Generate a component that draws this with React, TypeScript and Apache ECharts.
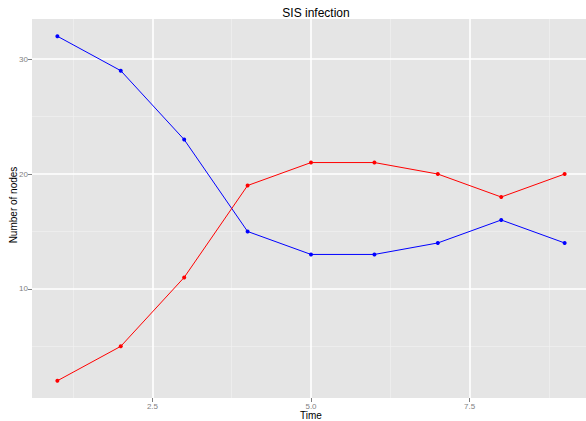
import React, { useEffect, useRef } from "react";
import * as echarts from "echarts";

const time = [1, 2, 3, 4, 5, 6, 7, 8, 9];
const susceptible = [32, 29, 23, 15, 13, 13, 14, 16, 14];
const infected = [2, 5, 11, 19, 21, 21, 20, 18, 20];
const xMajor = [2.5, 5.0, 7.5];
const xMinor = [1.25, 3.75, 6.25, 8.75];
const yMajor = [10, 20, 30];
const yMinor = [5, 15, 25];
const xTitle = "Time";
const yTitle = "Number of nodes";

export default function App() {
  const ref = useRef<HTMLDivElement>(null);
  useEffect(() => {
    const chart = echarts.init(ref.current!, null, { renderer: "svg" });
    const font = "Liberation Sans, Arial, sans-serif";
    const labelStyle = { color: "#7F7F7F", fontSize: 8, fontFamily: font };
    const majorLine = { show: true, lineStyle: { color: "#FFFFFF", width: 1.6 } };
    const minorLine = { show: true, lineStyle: { color: "#F0F0F0", width: 0.7 } };
    const xs = time;
    chart.setOption({
      animation: false,
      backgroundColor: "#FFFFFF",
      title: {
        text: "SIS infection",
        left: 311,
        textAlign: "center",
        top: 2,
        textStyle: { color: "#000", fontSize: 12, fontWeight: "normal", fontFamily: font },
      },
      graphic: [
        {
          type: "text",
          x: 311,
          y: 415.5,
          style: { text: xTitle, fill: "#000", fontSize: 10, fontFamily: font, textAlign: "center", textVerticalAlign: "middle" },
        },
        {
          type: "text",
          x: 13,
          y: 205,
          rotation: Math.PI / 2,
          style: { text: yTitle, fill: "#000", fontSize: 10, fontFamily: font, textAlign: "center", textVerticalAlign: "middle" },
        },
      ],
      grid: {
        left: 32,
        top: 19,
        width: 558,
        height: 379,
        show: true,
        backgroundColor: "#E5E5E5",
        borderWidth: 0,
        containLabel: false,
        outerBoundsMode: "none",
      },
      xAxis: [
        {
          type: "value",
          min: 0.6,
          max: 9.4,
          axisLine: { show: false },
          axisTick: { show: true, length: 4, customValues: xMajor, lineStyle: { color: "#7F7F7F" } },
          axisLabel: { customValues: xMajor, formatter: (v: number) => v.toFixed(1), margin: 4, ...labelStyle },
          splitLine: majorLine,
          z: 2,
        },
        {
          type: "value",
          min: 0.6,
          max: 9.4,
          position: "bottom",
          axisLine: { show: false },
          axisTick: { show: false, customValues: xMinor },
          axisLabel: { show: false, customValues: xMinor },
          splitLine: minorLine,
          z: 1,
        },
      ],
      yAxis: [
        {
          type: "value",
          min: 0.5,
          max: 33.5,
          axisLine: { show: false },
          axisTick: { show: true, length: 4, customValues: yMajor, lineStyle: { color: "#7F7F7F" } },
          axisLabel: { customValues: yMajor, margin: 4, ...labelStyle },
          splitLine: majorLine,
          z: 2,
        },
        {
          type: "value",
          min: 0.5,
          max: 33.5,
          position: "left",
          axisLine: { show: false },
          axisTick: { show: false, customValues: yMinor },
          axisLabel: { show: false, customValues: yMinor },
          splitLine: minorLine,
          z: 1,
        },
      ],
      series: [
        {
          type: "line",
          name: "Susceptible",
          data: xs.map((t, i) => [t, susceptible[i]]),
          color: "#0000FF",
          lineStyle: { width: 1, color: "#0000FF" },
          symbol: "circle",
          symbolSize: 4,
          itemStyle: { color: "#0000FF" },
          z: 5,
        },
        {
          type: "line",
          name: "Infected",
          data: xs.map((t, i) => [t, infected[i]]),
          color: "#FF0000",
          lineStyle: { width: 1, color: "#FF0000" },
          symbol: "circle",
          symbolSize: 4,
          itemStyle: { color: "#FF0000" },
          z: 5,
        },
      ],
    });
    return () => chart.dispose();
  }, []);
  return <div ref={ref} style={{ position: "fixed", left: 0, top: 0, width: 586, height: 421 }} />;
}
